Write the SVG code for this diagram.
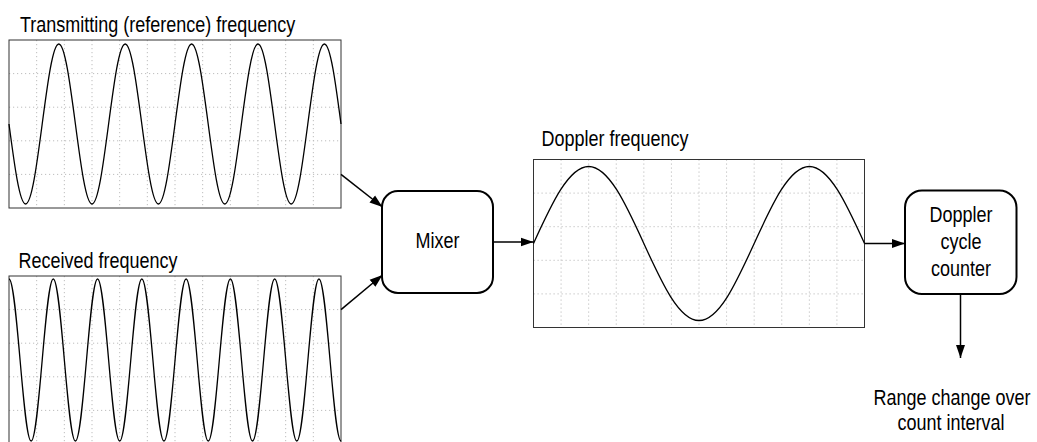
<svg xmlns="http://www.w3.org/2000/svg" width="1037" height="442" viewBox="0 0 1037 442">
<style>
  .bg{fill:#ffffff}
  .grid{fill:none;stroke:#bdbdbd;stroke-width:1;stroke-dasharray:1.2 2.8}
  .frame{fill:none;stroke:#333333;stroke-width:1}
  .wave{fill:none;stroke:#000000;stroke-width:1.3}
  .box{fill:#ffffff;stroke:#000000;stroke-width:2}
  .conn{fill:none;stroke:#000000;stroke-width:1.5}
  .lbl{font-family:"Liberation Sans",Arial,sans-serif;font-size:18px;fill:#000000}
  .mid{text-anchor:middle}
</style>
<defs>
  <marker id="arr" markerUnits="userSpaceOnUse" markerWidth="14" markerHeight="11" refX="13" refY="5" orient="auto">
    <path d="M0,0.5 L13,5 L0,9.5 z" fill="#000000"/>
  </marker>
</defs>
<rect class="bg" x="0" y="0" width="1037" height="442"/>

<g id="transmit-panel">
  <text class="lbl" transform="translate(20,31.5) scale(1,1.2)">Transmitting (reference) frequency</text>
  <path class="grid" d="M36.67,40V208M64.33,40V208M92,40V208M119.67,40V208M147.33,40V208M175,40V208M202.67,40V208M230.33,40V208M258,40V208M285.67,40V208M313.33,40V208M9,73.6H341M9,107.2H341M9,140.8H341M9,174.4H341"/>
  <rect class="frame" x="9" y="40" width="332" height="168"/>
  <path class="wave" d="M9,124
    c5.41,41 10.59,80 16.6,80 c6.01,0 11.19,-39 16.6,-80 c5.41,-41 10.59,-80 16.6,-80 c6.01,0 11.19,39 16.6,80
    c5.41,41 10.59,80 16.6,80 c6.01,0 11.19,-39 16.6,-80 c5.41,-41 10.59,-80 16.6,-80 c6.01,0 11.19,39 16.6,80
    c5.41,41 10.59,80 16.6,80 c6.01,0 11.19,-39 16.6,-80 c5.41,-41 10.59,-80 16.6,-80 c6.01,0 11.19,39 16.6,80
    c5.41,41 10.59,80 16.6,80 c6.01,0 11.19,-39 16.6,-80 c5.41,-41 10.59,-80 16.6,-80 c6.01,0 11.19,39 16.6,80
    c5.41,41 10.59,80 16.6,80 c6.01,0 11.19,-39 16.6,-80 c5.41,-41 10.59,-80 16.6,-80 c6.01,0 11.19,39 16.6,80"/>
</g>

<g id="received-panel">
  <text class="lbl" transform="translate(18.5,267.5) scale(1,1.2)">Received frequency</text>
  <path class="grid" d="M36.67,276V444M64.33,276V444M92,276V444M119.67,276V444M147.33,276V444M175,276V444M202.67,276V444M230.33,276V444M258,276V444M285.67,276V444M313.33,276V444M9,309.6H341M9,343.2H341M9,376.8H341M9,410.4H341"/>
  <rect class="frame" x="9" y="276" width="332" height="168"/>
  <path class="wave" d="M9,279
    c4,0 7.46,39.5 11.07,81 c3.61,41.5 7.06,81 11.07,81 c4,0 7.46,-39.5 11.07,-81 c3.61,-41.5 7.06,-81 11.07,-81
    c4,0 7.46,39.5 11.07,81 c3.61,41.5 7.06,81 11.07,81 c4,0 7.46,-39.5 11.07,-81 c3.61,-41.5 7.06,-81 11.07,-81
    c4,0 7.46,39.5 11.07,81 c3.61,41.5 7.06,81 11.07,81 c4,0 7.46,-39.5 11.07,-81 c3.61,-41.5 7.06,-81 11.07,-81
    c4,0 7.46,39.5 11.07,81 c3.61,41.5 7.06,81 11.07,81 c4,0 7.46,-39.5 11.07,-81 c3.61,-41.5 7.06,-81 11.07,-81
    c4,0 7.46,39.5 11.07,81 c3.61,41.5 7.06,81 11.07,81 c4,0 7.46,-39.5 11.07,-81 c3.61,-41.5 7.06,-81 11.07,-81
    c4,0 7.46,39.5 11.07,81 c3.61,41.5 7.06,81 11.07,81 c4,0 7.46,-39.5 11.07,-81 c3.61,-41.5 7.06,-81 11.07,-81
    c4,0 7.46,39.5 11.07,81 c3.61,41.5 7.06,81 11.07,81 c4,0 7.46,-39.5 11.07,-81 c3.61,-41.5 7.06,-81 11.07,-81
    c4,0 7.46,39.5 11.07,81 c3.61,41.5 7.06,81 11.07,81"/>
</g>

<g id="mixer">
  <rect class="box" x="382" y="191" width="111" height="102" rx="16" ry="16"/>
  <text class="lbl mid" transform="translate(437.5,248) scale(1,1.2)">Mixer</text>
</g>

<g id="doppler-panel">
  <text class="lbl" transform="translate(541.5,146) scale(1,1.2)">Doppler frequency</text>
  <path class="grid" d="M561.08,159.5V327.5M588.67,159.5V327.5M616.25,159.5V327.5M643.83,159.5V327.5M671.42,159.5V327.5M699,159.5V327.5M726.58,159.5V327.5M754.17,159.5V327.5M781.75,159.5V327.5M809.33,159.5V327.5M836.92,159.5V327.5M533.5,193.1H864.5M533.5,226.7H864.5M533.5,260.3H864.5M533.5,293.9H864.5"/>
  <rect class="frame" x="533.5" y="159.5" width="331" height="168"/>
  <path class="wave" d="M533.5,243.5
    c17.99,-39.45 35.2,-77 55.17,-77 c19.96,0 37.18,37.55 55.17,77
    c17.99,39.45 35.2,77 55.17,77 c19.96,0 37.18,-37.55 55.17,-77
    c17.99,-39.45 35.2,-77 55.17,-77 c19.96,0 37.18,37.55 55.17,77"/>
</g>

<g id="counter">
  <rect class="box" x="905" y="190.5" width="111.5" height="103.5" rx="17" ry="17"/>
  <text class="lbl mid" transform="translate(961,221.5) scale(1,1.2)">Doppler</text>
  <text class="lbl mid" transform="translate(961,248.5) scale(1,1.2)">cycle</text>
  <text class="lbl mid" transform="translate(961,275.5) scale(1,1.2)">counter</text>
</g>

<g id="output-label">
  <text class="lbl mid" transform="translate(952,405) scale(1,1.2)">Range change over</text>
  <text class="lbl mid" transform="translate(951,430) scale(1,1.2)">count interval</text>
</g>

<g id="connectors">
  <line class="conn" x1="341" y1="174.4" x2="382.5" y2="207" marker-end="url(#arr)"/>
  <line class="conn" x1="341" y1="309.6" x2="382.5" y2="275" marker-end="url(#arr)"/>
  <line class="conn" x1="493" y1="242" x2="533.5" y2="242" marker-end="url(#arr)"/>
  <line class="conn" x1="864.5" y1="243.5" x2="905" y2="243.5" marker-end="url(#arr)"/>
  <line class="conn" x1="960.5" y1="294" x2="960.5" y2="358" marker-end="url(#arr)"/>
</g>
</svg>
